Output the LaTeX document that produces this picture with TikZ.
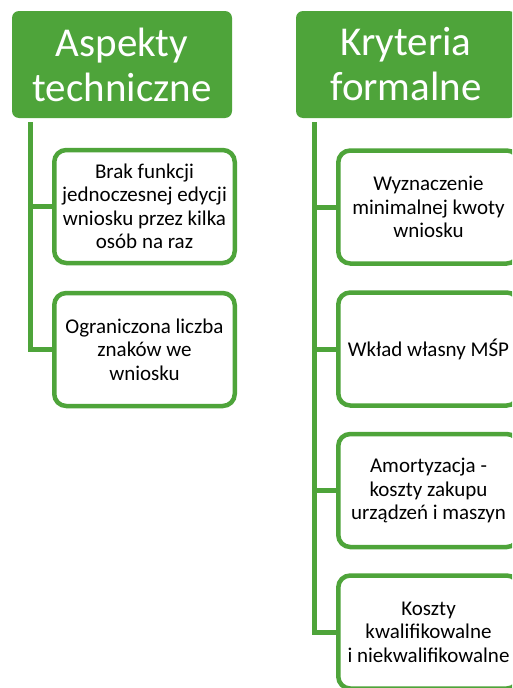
\documentclass[tikz,border=0pt]{standalone}
\usepackage{fontspec}
\setmainfont{Carlito}
\definecolor{sgreen}{RGB}{78,164,58}
\begin{document}
\begin{tikzpicture}[x=1pt,y=-1pt,
  hdr/.style={fill=sgreen,rounded corners=7pt,minimum width=220pt,minimum height=107pt,
    text=white,align=center,inner sep=0pt,font=\fontsize{41}{45}\selectfont},
  item/.style={draw=sgreen,line width=4.5pt,fill=white,rounded corners=12pt,
    minimum width=180.5pt,minimum height=113pt,align=center,inner sep=0pt,
    font=\fontsize{21}{23.5}\selectfont},
  conn/.style={draw=sgreen,line width=5pt}]
\useasboundingbox (0,0) rectangle (512,688);
\clip (0,0) rectangle (512,688);
\fill[white] (0,0) rectangle (512,688);
% headers
\node[hdr] (hL) at (122,64.5) {Aspekty\\techniczne};
\node[hdr] (hR) at (406,64.5) {Kryteria\\formalne};
% connector tops
\coordinate (tL) at (30.5,122);
\coordinate (tR) at (314.5,122);
% boxes
\node[item] (l1) at (144.5,206.5) {Brak funkcji\\jednoczesnej edycji\\wniosku przez kilka\\osób na raz};
\node[item] (l2) at (144.5,349.5) {Ograniczona liczba\\znaków we\\wniosku};
\node[item] (r1) at (428.5,207) {Wyznaczenie\\minimalnej kwoty\\wniosku};
\node[item] (r2) at (428.5,349) {Wkład własny MŚP};
\node[item] (r3) at (428.5,490.5) {Amortyzacja -\\koszty zakupu\\urządzeń i maszyn};
\node[item] (r4) at (428.5,632) {Koszty\\kwalifikowalne\\i niekwalifikowalne};
% connectors
\draw[conn] (tL) |- (l1.west);
\draw[conn] (tL) |- (l2.west);
\draw[conn] (tR) |- (r1.west);
\draw[conn] (tR) |- (r2.west);
\draw[conn] (tR) |- (r3.west);
\draw[conn] (tR) |- (r4.west);
\end{tikzpicture}
\end{document}
